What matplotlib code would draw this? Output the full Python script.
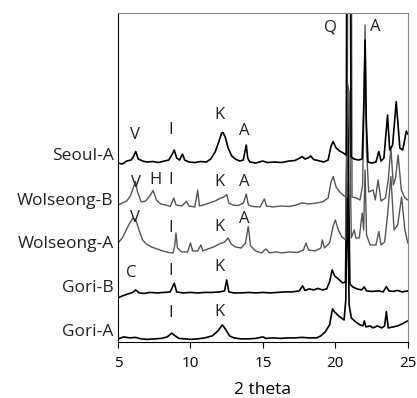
import matplotlib
matplotlib.use("Agg")
import matplotlib.pyplot as plt

plt.rcParams['font.family'] = ['Open Sans', 'DejaVu Sans']

# XRD patterns (stacked, arbitrary units)
seoul_a_t = [5.0, 5.3, 5.6, 5.9, 6.05, 6.22, 6.4, 6.7, 7.0, 7.4, 7.8, 8.2, 8.5, 8.75, 8.88, 9.05,
             9.25, 9.45, 9.6, 9.9, 10.3, 10.7, 11.1, 11.4, 11.7, 11.95, 12.15, 12.25, 12.4, 12.6,
             12.85, 13.1, 13.4, 13.65, 13.75, 13.85, 13.95, 14.1, 14.5, 15.0, 15.3, 15.8, 16.3,
             16.8, 17.2, 17.55, 17.7, 17.9, 18.1, 18.3, 18.5, 18.8, 19.2, 19.5, 19.7, 19.85, 20.05,
             20.3, 20.55, 20.75, 20.84, 20.98, 21.08, 21.3, 21.6, 21.85, 21.97, 22.05, 22.13, 22.25,
             22.5, 22.8, 23.0, 23.15, 23.35, 23.6, 23.75, 23.95, 24.2, 24.45, 24.65, 24.9, 25.0]
seoul_a_i = [179, 178, 181, 182, 185, 190.5, 183, 181, 180, 180.5, 179.5, 181, 182, 188, 192, 184,
             182, 188, 182, 180, 179.5, 180.5, 180, 183, 190, 200, 209, 209.5, 205, 194,
             186, 183, 181, 182, 190, 197, 184, 180, 179, 181, 179.5, 180, 179.5,
             181, 181.5, 184, 185.5, 183, 184, 186, 182.5, 181.5, 180, 182, 196, 200.5, 194,
             191, 189, 187, 700, 700, 185, 183, 182, 183, 242, 302, 222, 180,
             179, 180, 190.5, 181, 184, 227, 192, 197, 240.5, 194, 192, 211, 208]

wolseong_b_t = [5.0, 5.3, 5.6, 5.85, 6.05, 6.2, 6.35, 6.6, 6.9, 7.2, 7.42, 7.65, 7.95, 8.3, 8.6,
                8.85, 9.0, 9.4, 9.72, 9.9, 10.3, 10.5, 10.62, 10.9, 11.3, 11.7, 12.1, 12.3, 12.5,
                12.65, 12.9, 13.3, 13.65, 13.85, 14.0, 14.3, 14.8, 15.1, 15.25, 15.7, 16.2, 16.8,
                17.3, 17.7, 18.2, 18.7, 19.1, 19.5, 19.7, 19.85, 20.05, 20.3, 20.6, 20.8, 20.92,
                21.05, 21.15, 21.45, 21.7, 21.88, 21.97, 22.05, 22.15, 22.3, 22.6, 22.75, 22.95,
                23.15, 23.45, 23.65, 23.83, 24.0, 24.15, 24.33, 24.55, 24.8, 25.0]
wolseong_b_i = [137, 139, 141, 146, 154, 160.5, 150, 140, 141, 146, 151.5, 142, 138, 137, 135.5,
                144, 137, 136, 140.5, 136, 135, 151.5, 136, 137, 139, 141, 144, 145, 147.5,
                139, 137, 136.5, 139, 148, 137, 135.5, 135, 143, 136, 135, 136, 135.5,
                137, 139, 138, 139, 140, 144, 160, 165.5, 155, 150, 146, 145, 700,
                700, 145, 144, 142, 157, 232, 317, 192, 150, 152, 142, 162,
                141, 144, 162, 194, 157, 164, 187, 152, 144, 142]

wolseong_a_t = [5.0, 5.3, 5.6, 5.85, 6.05, 6.25, 6.45, 6.7, 6.95, 7.3, 7.7, 8.1, 8.5, 8.8, 8.92,
                9.0, 9.1, 9.4, 9.8, 10.0, 10.15, 10.5, 10.72, 10.85, 11.2, 11.6, 12.0, 12.35, 12.6,
                12.8, 13.1, 13.5, 13.8, 13.99, 14.15, 14.5, 14.9, 15.2, 15.45, 15.9, 16.3, 16.8,
                17.4, 17.8, 17.97, 18.15, 18.6, 19.0, 19.1, 19.25, 19.6, 19.85, 20.0, 20.2, 20.45,
                20.7, 20.82, 20.95, 21.1, 21.3, 21.42, 21.65, 21.85, 21.95, 22.05, 22.15, 22.4,
                22.8, 23.0, 23.15, 23.4, 23.6, 23.83, 24.05, 24.3, 24.57, 24.8, 25.0]
wolseong_a_i = [99, 104, 113, 120, 124, 121, 112, 102, 98, 95, 93, 91, 89.5, 89, 97,
                109, 94, 90, 90, 99, 91, 91, 97, 91, 93, 95, 98, 100, 104,
                98, 95, 94, 99, 115.5, 96, 91, 89, 93, 89, 90, 89, 90,
                89.5, 92, 99, 92, 91, 94, 102, 94, 99, 116, 122, 112, 105,
                102, 260, 250, 104, 112, 104, 104, 129, 112, 172, 107, 97,
                97, 110.5, 97, 100, 127, 165.5, 112, 117, 145, 112, 99]

gori_b_t = [5.0, 5.3, 5.7, 6.0, 6.22, 6.45, 6.8, 7.2, 7.7, 8.2, 8.6, 8.88, 9.05, 9.5, 10.0, 10.5,
            11.0, 11.5, 12.0, 12.35, 12.5, 12.65, 13.0, 13.5, 14.0, 14.5, 15.0, 15.5, 16.0, 16.5,
            17.0, 17.5, 17.74, 17.9, 18.2, 18.5, 18.8, 19.1, 19.4, 19.6, 19.78, 19.95, 20.2, 20.5,
            20.7, 20.84, 21.0, 21.2, 21.5, 21.8, 22.0, 22.15, 22.5, 23.0, 23.3, 23.52, 23.7, 24.0,
            24.3, 24.6, 25.0]
gori_b_i = [44, 46, 48, 49.5, 52, 49, 48.5, 49.5, 49, 49.5, 50, 58.7, 50, 49, 49.5, 49,
            49.5, 49.5, 50, 51, 62, 50, 49, 49, 49.5, 49, 49.5, 49, 49.5, 50,
            50, 51, 56, 51.5, 53, 52, 53.5, 52, 53, 60, 72, 66, 63, 59,
            60, 250, 58, 55, 53, 52, 55, 51, 50.5, 51, 50, 55.3, 51, 50.5,
            51.5, 50, 51]

gori_a_t = [5.0, 5.4, 5.8, 6.2, 6.6, 7.0, 7.5, 8.0, 8.4, 8.7, 8.95, 9.2, 9.6, 10.0, 10.5, 11.0,
            11.5, 11.9, 12.2, 12.45, 12.7, 13.0, 13.5, 14.0, 14.5, 15.0, 15.2, 15.7, 16.2, 16.7,
            17.2, 17.7, 18.2, 18.7, 19.0, 19.3, 19.6, 19.8, 19.95, 20.15, 20.4, 20.6, 20.72, 20.82,
            20.95, 21.1, 21.4, 21.7, 21.9, 22.0, 22.1, 22.4, 22.6, 22.9, 23.2, 23.4, 23.52, 23.65,
            24.0, 24.3, 24.6, 24.85, 25.0]
gori_a_i = [3, 5, 4, 4.5, 3, 2.5, 3, 3.5, 5, 8.7, 6, 3.5, 3, 2.5, 3, 4,
            6, 11, 17, 12, 6, 4, 3, 3, 3.5, 5, 3.5, 4, 3.5, 4,
            4, 4.5, 4, 4, 6, 10, 17, 33, 30, 27, 24, 22, 42, 160,
            37, 24, 20, 17, 16, 21, 15, 16, 14, 16, 14, 16, 30.3, 14,
            15, 16, 18, 20, 21]

samples = ["Seoul-A", "Wolseong-B", "Wolseong-A", "Gori-B", "Gori-A"]
label_pos = [188, 143, 100, 56, 12]

# peak labels: letter, 2theta, height
peak_txt = ["V", "I", "K", "A",
            "V", "H", "I", "K", "A",
            "V", "I", "K", "A",
            "C", "I", "K",
            "I", "K",
            "Q", "A"]
peak_x = [6.17, 8.63, 12.03, 13.71,
          6.22, 7.62, 8.63, 12.03, 13.71,
          6.17, 8.63, 12.03, 13.71,
          5.9, 8.63, 12.03,
          8.63, 12.03,
          19.69, 22.72]
peak_y = [207, 212, 227, 211,
          159, 162, 162, 160, 160,
          124, 114, 115, 123,
          69, 71, 75,
          29, 30,
          315, 315]

fig = plt.figure(figsize=(4.17, 3.98), dpi=100)
ax = fig.add_axes([0.283, 0.141, 0.695, 0.826])

ax.plot(gori_a_t, gori_a_i, color='black', lw=1.2)
ax.plot(gori_b_t, gori_b_i, color='black', lw=1.2)
ax.plot(wolseong_a_t, wolseong_a_i, color='#555555', lw=1.0)
ax.plot(wolseong_b_t, wolseong_b_i, color='#555555', lw=1.0)
ax.plot(seoul_a_t, seoul_a_i, color='black', lw=1.2)

for s, x, y in zip(peak_txt, peak_x, peak_y):
    ax.text(x, y, s, ha='center', va='center', fontsize=12, color='#222222')

ax.set_xlim(5, 25)
ax.set_ylim(0, 329)
ax.set_xticks([5, 10, 15, 20, 25])
ax.set_yticks(label_pos)
ax.set_yticklabels(samples, fontsize=12.5, color='#222222')
ax.tick_params(axis='y', length=0, pad=3)
ax.tick_params(axis='x', direction='out', length=4, labelsize=11, pad=6)
ax.set_xlabel('2 theta', fontsize=12.5, labelpad=8)

for sp in ['top', 'right']:
    ax.spines[sp].set_color('#888888')

plt.savefig('out.png', dpi=100)
